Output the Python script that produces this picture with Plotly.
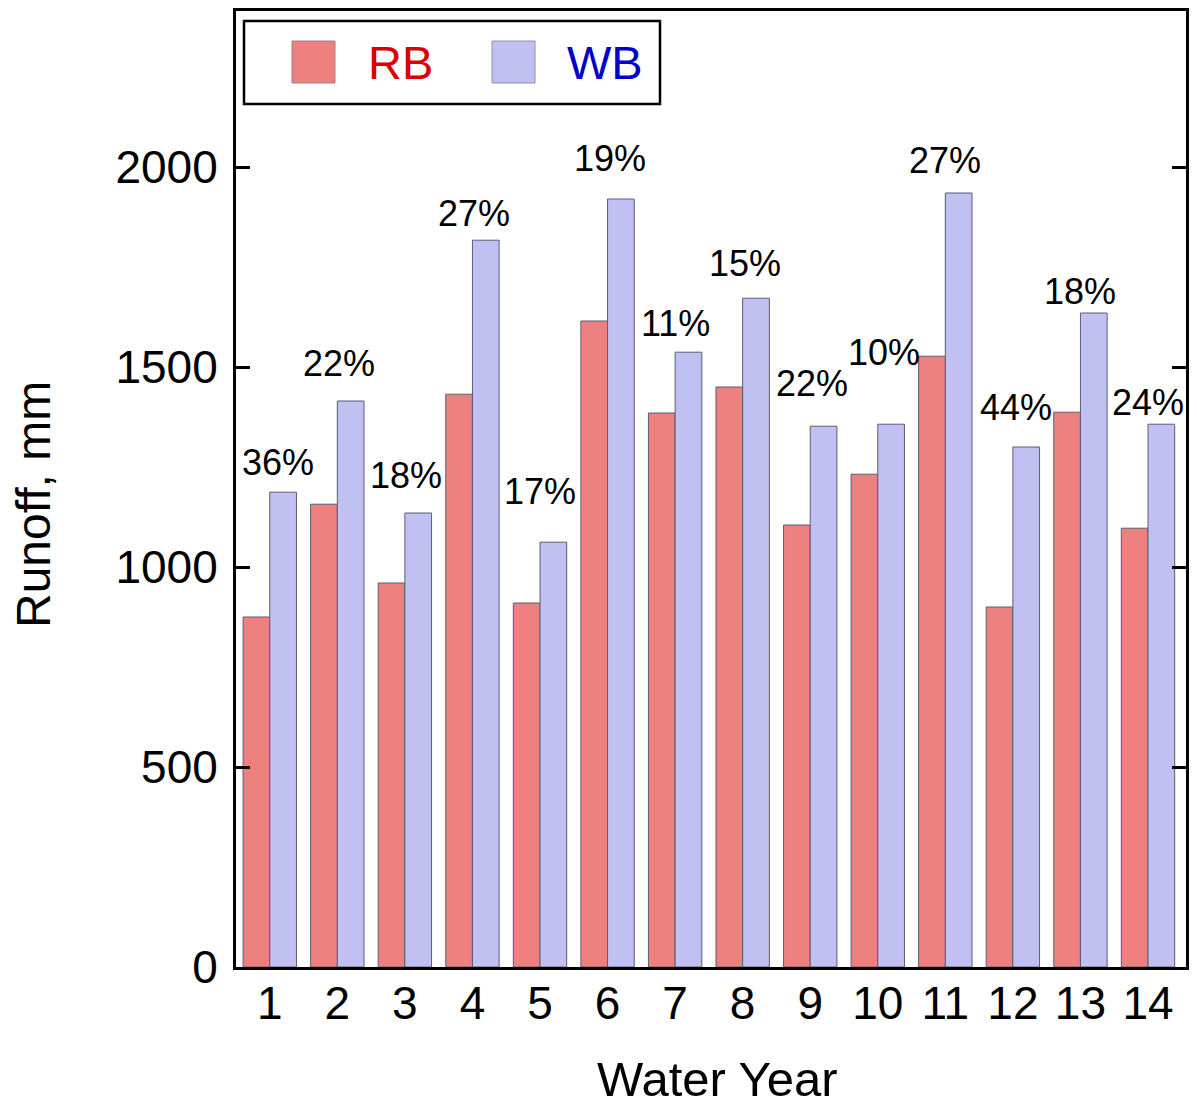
import plotly.graph_objects as go

years = [str(i) for i in range(1, 15)]
rb_runoff = [875, 1157, 960, 1432, 910, 1615, 1385, 1450, 1105, 1232, 1527, 900, 1387, 1097]
wb_runoff = [1187, 1415, 1135, 1817, 1062, 1920, 1537, 1672, 1352, 1357, 1935, 1300, 1635, 1357]
pct_labels = ["36%", "22%", "18%", "27%", "17%", "19%", "11%", "15%", "22%", "10%", "27%", "44%", "18%", "24%"]
y_ticks = [0, 500, 1000, 1500, 2000]

# label offsets relative to the top of the WB bar (px) -- styling only
label_offsets = [30, 38, 38, 27, 51, 41, 29, 35, 43, 72, 33, 40, 22, 22]
label_xshift = [8, 2, 1, 2, 0, 2, 0, 2, 2, 6, 0, 3, 0, 0]

FONT = "Liberation Sans, Arial, sans-serif"
RB_COLOR = "#EF8080"
WB_COLOR = "#C0C0F2"
EDGE = "#5C5C70"

# plot-area geometry in page pixels (page has an 8px body margin)
OFF = 8
FIG_W, FIG_H = 1181, 1097
PX_L, PX_R, PX_T, PX_B = 236, 1186, 11, 967
PW, PH = PX_R - PX_L, PX_B - PX_T


def px(xp):
    return (xp - PX_L) / PW


def py(yp):
    return (PX_B - yp) / PH


fig = go.Figure()
fig.add_trace(go.Bar(x=years, y=rb_runoff, name="RB",
                     marker=dict(color=RB_COLOR, line=dict(color=EDGE, width=1)),
                     showlegend=False))
fig.add_trace(go.Bar(x=years, y=wb_runoff, name="WB",
                     marker=dict(color=WB_COLOR, line=dict(color=EDGE, width=1)),
                     showlegend=False))

for i, (v, lab, off, xs) in enumerate(zip(wb_runoff, pct_labels, label_offsets, label_xshift)):
    fig.add_annotation(x=i, y=v, text=lab, showarrow=False, xref="x", yref="y",
                       yanchor="middle", yshift=off, xshift=xs,
                       font=dict(family=FONT, size=36, color="black"))

# custom legend box
fig.add_shape(type="rect", xref="paper", yref="paper", x0=px(244), x1=px(660), y0=py(104), y1=py(21),
              line=dict(color="black", width=2.5), fillcolor="white")
fig.add_shape(type="rect", xref="paper", yref="paper", x0=px(292), x1=px(335), y0=py(83), y1=py(41),
              line=dict(color="#A08080", width=1), fillcolor=RB_COLOR)
fig.add_shape(type="rect", xref="paper", yref="paper", x0=px(492), x1=px(535), y0=py(83), y1=py(41),
              line=dict(color="#9090B0", width=1), fillcolor=WB_COLOR)
fig.add_annotation(xref="paper", yref="paper", x=px(366), y=py(63),
                   xanchor="left", yanchor="middle", text="RB", showarrow=False,
                   font=dict(family=FONT, size=47, color="#DD0000"))
fig.add_annotation(xref="paper", yref="paper", x=px(565), y=py(63),
                   xanchor="left", yanchor="middle", text="WB", showarrow=False,
                   font=dict(family=FONT, size=47, color="#0000CC"))

# axis titles
fig.add_annotation(xref="paper", yref="paper", x=px(33), y=py(505), textangle=-90,
                   xanchor="center", yanchor="middle", text="Runoff, mm", showarrow=False,
                   font=dict(family=FONT, size=48, color="black"))
fig.add_annotation(xref="paper", yref="paper", x=px(717), y=py(1079),
                   xanchor="center", yanchor="middle", text="Water Year", showarrow=False,
                   font=dict(family=FONT, size=49, color="black"))

fig.update_layout(
    width=FIG_W, height=FIG_H,
    margin=dict(l=PX_L - OFF, r=FIG_W - (PX_R - OFF), t=PX_T - OFF, b=FIG_H - (PX_B - OFF)),
    paper_bgcolor="white", plot_bgcolor="white",
    barmode="group", bargap=0.21, bargroupgap=0,
    font=dict(family=FONT, color="black"),
    xaxis=dict(type="category", showline=True, linecolor="black", linewidth=3, mirror=True,
               ticks="", showgrid=False, tickfont=dict(size=46), ticklabelstandoff=-6,
               automargin=False),
    yaxis=dict(range=[0, PH / 0.4], tickvals=y_ticks, showline=True, linecolor="black",
               linewidth=3, mirror="ticks", ticks="inside", ticklen=14, tickwidth=3,
               tickcolor="black", showgrid=False, zeroline=False, automargin=False,
               tickfont=dict(size=46), ticklabelstandoff=6),
)

fig.write_html("out.html")
